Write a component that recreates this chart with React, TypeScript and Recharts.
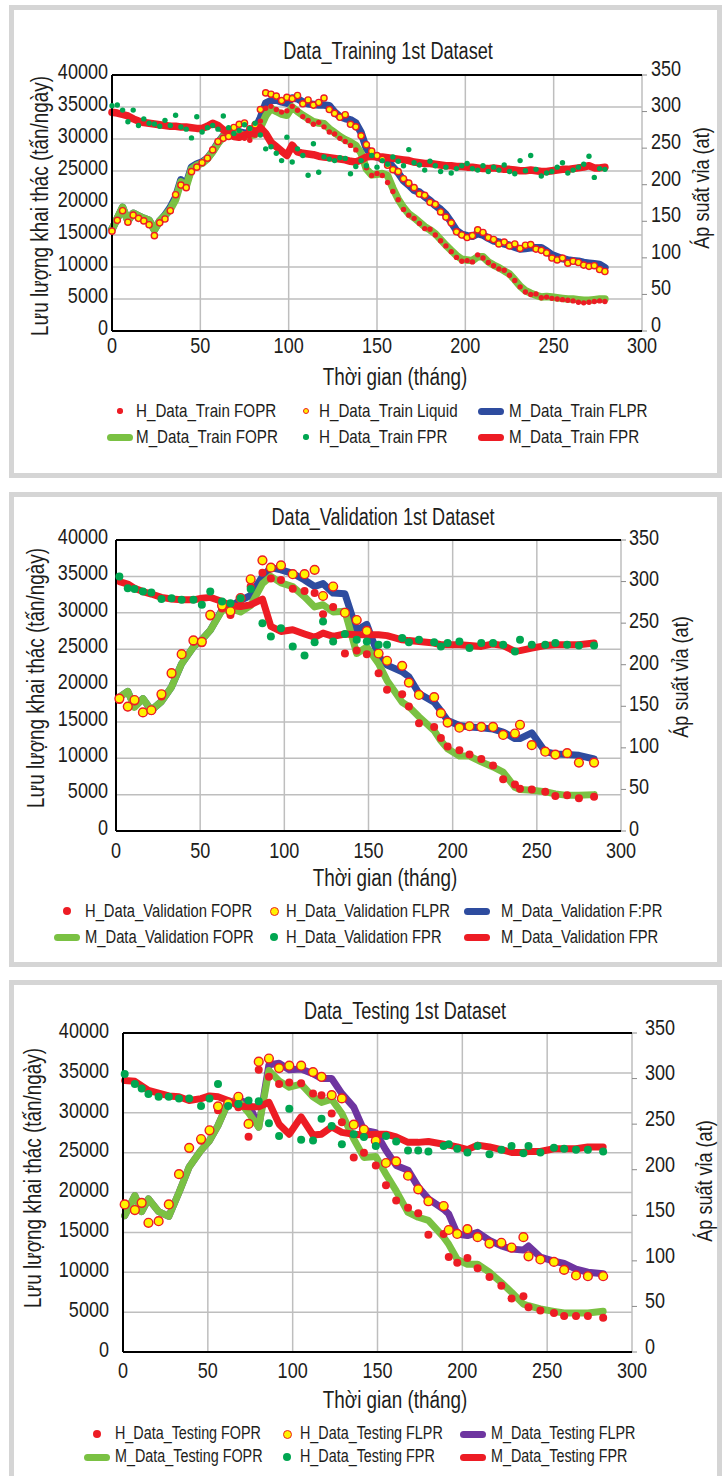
import React from 'react';
import { ComposedChart, Line, XAxis, YAxis, CartesianGrid, ReferenceLine } from 'recharts';

// No narrow face is installed, so Liberation Sans is squeezed horizontally instead
const FONT = '"Liberation Sans", Arial, sans-serif';
const SX = 0.82;
const INK = '#1d1d1b';
const RED = '#ED1C24';
const GREEN_LINE = '#7AC143';
const GREEN_DOT = '#00A651';
const BLUE = '#2E4C9F';
const PURPLE = '#6E35A0';
const YELLOW = '#FFF200';
const GRID = '#BEBEBE';
const FRAME = '#D5D5D5';

const X_TICKS = [0, 50, 100, 150, 200, 250, 300];
const RATE_TICKS = [0, 5000, 10000, 15000, 20000, 25000, 30000, 35000, 40000];
const PRESSURE_TICKS = [0, 50, 100, 150, 200, 250, 300, 350];

// ---- Training (monthly history, sampled every 3 months) ----
const trainMonths = [
  0, 3, 6, 9, 12, 15, 18, 21, 24, 27,
  30, 33, 36, 39, 42, 45, 48, 51, 54, 57,
  60, 63, 66, 69, 72, 75, 78, 81, 84, 87,
  90, 93, 96, 99, 102, 105, 108, 111, 114, 117,
  120, 123, 126, 129, 132, 135, 138, 141, 144, 147,
  150, 153, 156, 159, 162, 165, 168, 171, 174, 177,
  180, 183, 186, 189, 192, 195, 198, 201, 204, 207,
  210, 213, 216, 219, 222, 225, 228, 231, 234, 237,
  240, 243, 246, 249, 252, 255, 258, 261, 264, 267,
  270, 273, 276, 279,
];
const trainHFopr = [
  15600, 17300, 18800, 17000, 18100, 17600, 17200, 16600, 14900, 16900,
  17500, 18800, 21300, 22800, 22400, 24900, 25600, 26300, 27000, 28300,
  29600, 30100, 30400, 30300, 30200, 30100, 29800, 30600, 32800, 34800,
  35100, 34600, 34200, 34400, 35100, 34500, 33500, 32900, 32300, 32600,
  31900, 31100, 30800, 30100, 29600, 29000, 28300, 26900, 25500, 24300,
  24600, 24300, 23200, 21800, 20500, 19000, 18100, 17600, 16800, 16000,
  15900, 15000, 14100, 13300, 12400, 11500, 10900, 11000, 10800, 11900,
  11400, 10700, 10200, 9700, 9500, 8700, 7900, 6900, 6100, 5700,
  5800, 5200, 5300, 5100, 5000, 4900, 4800, 4700, 4500, 4400,
  4500, 4600, 4700, 4600,
];
const trainHLiquid = [
  15600, 17300, 18800, 17000, 18100, 17600, 17200, 16600, 14900, 16900,
  17500, 18800, 21300, 22800, 22400, 24900, 25600, 26300, 27000, 28300,
  29600, 30100, 30400, 31800, 32300, 32500, 31600, 32200, 34600, 37200,
  37000, 36700, 36000, 36500, 36300, 36800, 35500, 36100, 35300, 35700,
  36400, 34600, 34000, 33400, 33800, 32300, 31900, 30500, 29100, 28100,
  27400, 26800, 25900, 25200, 24900, 23800, 23100, 22400, 21400, 21200,
  20100, 19800, 18600, 17800, 16900, 15500, 15000, 14600, 14900, 15800,
  15400, 14600, 14300, 13600, 13900, 13300, 13600, 12900, 13400, 13500,
  12800, 12600, 12200, 11400, 11100, 11400, 10600, 10900, 10700, 10300,
  10100, 10200, 9600, 9300,
];
const trainMFlpr = [
  15900, 17600, 19300, 17200, 18400, 18000, 17600, 17300, 15800, 17200,
  18100, 19300, 20900, 23600, 22900, 25600, 26100, 26400, 27000, 28100,
  29400, 30500, 30900, 31200, 31100, 30900, 31000, 31500, 33300, 35600,
  36000, 36100, 35800, 35600, 36400, 36300, 35800, 35500, 35400, 35300,
  35300, 35200, 34200, 33500, 33200, 33000, 32500, 31000, 28500, 27600,
  27200, 26900, 26600, 25600, 24700, 23500, 22800, 22000, 21700, 21000,
  20400, 19600, 19000, 18200, 17000, 15700, 15100, 14900, 14800, 15200,
  15000, 14500, 14100, 13900, 13600, 13400, 13100, 12800, 12900, 13000,
  13000, 13000, 12500, 11900, 11600, 11300, 11100, 11000, 10900, 10700,
  10600, 10500, 10400, 9900,
];
const trainMFopr = [
  15900, 17600, 19300, 17200, 18400, 18000, 17600, 17300, 15800, 17200,
  18000, 19000, 20500, 23300, 22600, 25300, 25900, 26200, 26900, 28000,
  29300, 30400, 30800, 31100, 30900, 30500, 30500, 30700, 31800, 33600,
  34800, 34300, 33900, 33700, 35000, 34300, 33700, 33200, 32700, 32500,
  32400, 31600, 31000, 30400, 29900, 29500, 29000, 27800, 25300, 24400,
  24500, 24600, 24300, 22300, 20600, 19300, 18300, 17700, 17000, 16300,
  15800, 15200, 14300, 13400, 12600, 11800, 11200, 11100, 11000, 11600,
  11600, 10800, 10300, 9900, 9400, 8900, 8000, 7000, 6300, 5900,
  5600, 5300, 5400, 5300, 5200, 5100, 5000, 5000, 4900, 4800,
  4800, 4900, 5000, 5000,
];
const trainHFpr = [
  308, 309, 302, 286, 302, 281, 290, 284, 283, 280,
  288, 281, 295, 279, 276, 264, 293, 272, 278, 281,
  276, 294, 278, 270, 274, 282, 277, 284, 268, 249,
  252, 243, 233, 265, 231, 249, 240, 213, 256, 217,
  238, 235, 233, 237, 236, 215, 225, 233, 226, 240,
  224, 233, 228, 238, 232, 226, 248, 230, 227, 220,
  232, 226, 218, 224, 216, 222, 226, 229, 222, 220,
  226, 218, 224, 220, 227, 218, 215, 233, 219, 240,
  221, 212, 216, 218, 224, 230, 216, 220, 224, 228,
  239, 210, 222, 221,
];
const trainMFpr = [
  299, 298, 296, 294, 290, 287, 285, 284, 283, 282,
  281, 280, 280, 279, 279, 278, 277, 277, 280, 284,
  281, 275, 271, 266, 265, 268, 269, 272, 278, 270,
  258, 252, 246, 240, 254, 245, 243, 242, 241, 239,
  238, 237, 236, 235, 234, 232, 231, 234, 238, 239,
  238, 238, 237, 236, 235, 234, 233, 231, 230, 229,
  229, 228, 227, 226, 226, 225, 225, 224, 224, 223,
  222, 222, 223, 222, 221, 221, 220, 219, 219, 220,
  219, 218, 218, 219, 220, 221, 221, 222, 223, 224,
  226, 223, 223, 224,
];

// ---- Validation ----
const valMonths = [
  2, 7, 11, 16, 21, 27, 33, 39, 46, 51,
  56, 63, 68, 74, 80, 87, 92, 98, 105, 112,
  118, 123, 129, 136, 143, 149, 156, 161, 170, 174,
  180, 189, 193, 197, 204, 210, 217, 224, 230, 237,
  240, 247, 255, 261, 268, 275, 284,
];
const valHFopr = [
  18000, 17000, 17800, 16300, 16500, 18500, 21500, 24200, 26000, 25800,
  29500, 30600, 29700, 31900, 33600, 35500, 34700, 34500, 33300, 33000,
  32700, 29800, 30800, 24400, 24800, 24300, 21700, 19400, 18800, 17100,
  14800, 14300, 12800, 11600, 11100, 10500, 9900, 9000, 7100, 6400,
  5800, 5700, 5400, 4800, 4900, 4500, 4700,
];
const valHFlpr = [
  18200, 17100, 18000, 16300, 16600, 18800, 21700, 24300, 26200, 26000,
  29700, 31000, 30200, 32000, 34600, 37200, 36200, 36500, 35300, 35300,
  35900, 32300, 33600, 30000, 29000, 27500, 24400, 23400, 22700, 20400,
  18700, 18400, 16200, 14900, 14200, 14400, 14300, 14300, 13200, 13400,
  14600, 11800, 10900, 10500, 10700, 9400, 9400,
];
const valMFlpr = [
  18400, 19200, 17100, 18200, 16600, 17800, 19800, 23000, 25300, 26300,
  27600, 30400, 30900, 31700, 32400, 35000, 36200, 35900, 35400, 34500,
  33600, 34000, 32700, 32600, 27600, 28400, 24000, 22800, 21900, 21200,
  18900, 17700, 16500, 15200, 14500, 14300, 14200, 14000, 13600, 12700,
  12700, 13500, 10900, 10600, 10500, 10400, 9900,
];
const valMFopr = [
  18400, 19200, 17000, 18200, 16600, 17800, 19800, 23000, 25300, 26300,
  27600, 30300, 30600, 30100, 31000, 34000, 35000, 34100, 33600, 32200,
  30800, 31100, 30100, 30200, 24400, 25300, 23000, 20700, 17700, 17100,
  15700, 13800, 12400, 11300, 10300, 10300, 9500, 8800, 8100, 6000,
  5700, 5600, 5400, 5100, 4900, 4900, 5000,
];
const valHFpr = [
  306, 292, 291, 288, 287, 279, 280, 278, 278, 272,
  288, 276, 274, 280, 291, 250, 234, 244, 222, 211,
  227, 252, 228, 237, 230, 228, 224, 224, 232, 227,
  230, 227, 222, 226, 228, 220, 226, 226, 224, 216,
  230, 224, 224, 226, 224, 223, 223,
];
const valMFpr = [
  300, 297, 292, 288, 285, 281, 279, 278, 278, 280,
  281, 276, 271, 270, 272, 279, 246, 240, 242, 237,
  233, 238, 234, 237, 236, 236, 236, 235, 230, 229,
  228, 226, 224, 224, 224, 223, 222, 225, 223, 216,
  217, 220, 223, 224, 224, 224, 226,
];

// ---- Testing ----
const testMonths = [
  1, 7, 11, 15, 21, 27, 33, 39, 46, 51,
  56, 62, 68, 74, 80, 86, 92, 98, 105, 112,
  117, 123, 129, 136, 142, 149, 155, 161, 168, 174,
  180, 189, 192, 197, 203, 209, 216, 223, 229, 236,
  239, 246, 254, 260, 267, 274, 283,
];
const testHFopr = [
  18400, 17800, 18600, 16200, 16400, 18400, 22300, 25500, 26500, 27700,
  30300, 31000, 30700, 27000, 35400, 34500, 33600, 33800, 33700, 32400,
  32200, 29900, 28800, 24400, 25000, 23400, 20900, 19000, 18100, 17400,
  14700, 14800, 11900, 11200, 11800, 10500, 9400, 8300, 6700, 7000,
  5600, 5200, 4900, 4500, 4500, 4500, 4300,
];
const testHFlpr = [
  18500, 17800, 18700, 16200, 16400, 18500, 22300, 25600, 26700, 27800,
  30800, 31200, 32000, 28600, 36400, 36800, 35600, 35900, 35900, 35100,
  34500, 32200, 31800, 28500, 27900, 26500, 23700, 23900, 22100, 20400,
  18900, 18300, 15300, 14800, 15400, 14400, 13600, 13700, 13100, 14400,
  12000, 11600, 11300, 10300, 9600, 9500, 9500,
];
const testMFlpr = [
  17100, 19600, 17600, 19200, 17600, 17000, 20000, 23200, 25300, 26500,
  28400, 31300, 31600, 31200, 28200, 36000, 36200, 35400, 35500, 34900,
  34300, 34300, 32400, 30700, 27800, 27500, 25300, 23400, 22800, 20700,
  19200, 17900, 17300, 14800, 14600, 15000, 14000, 13300, 12900, 12800,
  13300, 11900, 11400, 11100, 10400, 10000, 9800,
];
const testMFopr = [
  17100, 19600, 17600, 19200, 17600, 17000, 20000, 23200, 25300, 26500,
  28400, 31300, 31500, 30000, 28200, 35300, 34000, 33200, 33600, 32000,
  31300, 31700, 29900, 26700, 24400, 24500, 22300, 20200, 17500, 16900,
  16500, 14400, 13500, 11600, 11000, 11000, 10000, 8700, 7500, 6000,
  5800, 5400, 5100, 4900, 4900, 4900, 5100,
];
const testHFpr = [
  305, 294, 289, 283, 280, 280, 278, 278, 270, 278,
  294, 270, 272, 276, 275, 251, 237, 267, 233, 232,
  256, 248, 228, 239, 236, 226, 237, 231, 221, 221,
  220, 226, 228, 223, 219, 226, 217, 222, 226, 218,
  226, 219, 224, 223, 222, 222, 220,
];
const testMFpr = [
  298, 297, 292, 287, 284, 281, 280, 276, 278, 281,
  280, 276, 270, 269, 269, 274, 250, 239, 258, 238,
  239, 247, 241, 239, 238, 239, 239, 236, 230, 230,
  231, 228, 227, 225, 222, 227, 225, 222, 219, 219,
  220, 220, 223, 223, 223, 225, 225,
];

type LegendItem = { label: string; kind: 'dot' | 'line'; color: string; edge?: string };

interface PanelSpec {
  title: string;
  months: number[];
  hFopr: number[]; hFlpr: number[]; mFlpr: number[]; mFopr: number[]; hFpr: number[]; mFpr: number[];
  flprColor: string;
  legend: LegendItem[][];
  frameTop: number; frameHeight: number;
  chartTop: number; chartHeight: number;
  margin: { top: number; left: number; right: number; bottom: number };
  lGap: number; rGap: number; xGap: number; lShift: number; rShift: number;
  titleAt: [number, number]; xLabelAt: [number, number]; lLabelAt: [number, number]; rLabelAt: [number, number];
  legendRows: number[]; markerX: number[]; textX: number[]; legendFont: number;
  dotR: number; legendDotR: number; lineW: number; denseOrder: boolean;
}

const legendFor = (h: string, m: string, flprLabel: string, liqLabel: string, flprColor: string): LegendItem[][] => [
  [
    { label: `${h} FOPR`, kind: 'dot', color: RED },
    { label: liqLabel, kind: 'dot', color: YELLOW, edge: RED },
    { label: flprLabel, kind: 'line', color: flprColor },
  ],
  [
    { label: `${m} FOPR`, kind: 'line', color: GREEN_LINE },
    { label: `${h} FPR`, kind: 'dot', color: GREEN_DOT },
    { label: `${m} FPR`, kind: 'line', color: RED },
  ],
];

const PANELS: PanelSpec[] = [
  {
    title: 'Data_Training 1st Dataset',
    months: trainMonths, hFopr: trainHFopr, hFlpr: trainHLiquid, mFlpr: trainMFlpr, mFopr: trainMFopr, hFpr: trainHFpr, mFpr: trainMFpr,
    flprColor: BLUE,
    legend: legendFor('H_Data_Train', 'M_Data_Train', 'M_Data_Train FLPR', 'H_Data_Train Liquid', BLUE),
    frameTop: 5, frameHeight: 473, chartTop: 0, chartHeight: 370,
    margin: { top: 75, left: 52, right: 23, bottom: 9 },
    lGap: 4, rGap: 4, xGap: 6, lShift: -4, rShift: -7,
    titleAt: [388, 52], xLabelAt: [395, 377], lLabelAt: [40, 206], rLabelAt: [702, 188],
    legendRows: [411, 437], markerX: [120, 306, 491], textX: [136, 319, 509], legendFont: 18.5,
    dotR: 2.7, legendDotR: 2.7, lineW: 7.5, denseOrder: true,
  },
  {
    title: 'Data_Validation 1st Dataset',
    months: valMonths, hFopr: valHFopr, hFlpr: valHFlpr, mFlpr: valMFlpr, mFopr: valMFopr, hFpr: valHFpr, mFpr: valMFpr,
    flprColor: BLUE,
    legend: legendFor('H_Data_Validation', 'M_Data_Validation', 'M_Data_Validation F:PR', 'H_Data_Validation FLPR', BLUE),
    frameTop: 492, frameHeight: 475, chartTop: 480, chartHeight: 390,
    margin: { top: 60, left: 56, right: 44, bottom: 9 },
    lGap: 8, rGap: 3, xGap: 11, lShift: -4, rShift: -3,
    titleAt: [383, 518], xLabelAt: [385, 878], lLabelAt: [36, 678], rLabelAt: [681, 677],
    legendRows: [911, 937], markerX: [67, 274, 477], textX: [85, 286, 501], legendFont: 18,
    dotR: 4, legendDotR: 4, lineW: 7, denseOrder: false,
  },
  {
    title: 'Data_Testing 1st Dataset',
    months: testMonths, hFopr: testHFopr, hFlpr: testHFlpr, mFlpr: testMFlpr, mFopr: testMFopr, hFpr: testHFpr, mFpr: testMFpr,
    flprColor: PURPLE,
    legend: legendFor('H_Data_Testing', 'M_Data_Testing', 'M_Data_Testing FLPR', 'H_Data_Testing FLPR', PURPLE),
    frameTop: 980, frameHeight: 510, chartTop: 970, chartHeight: 420,
    margin: { top: 63, left: 63, right: 33, bottom: 8 },
    lGap: 14, rGap: 8, xGap: 10, lShift: -3, rShift: -6,
    titleAt: [405, 1012], xLabelAt: [395, 1400], lLabelAt: [33, 1178], rLabelAt: [705, 1181],
    legendRows: [1434, 1457], markerX: [97, 287, 473], textX: [115, 300, 491], legendFont: 17.5,
    dotR: 4, legendDotR: 4, lineW: 7, denseOrder: false,
  },
];

const centered = (x: number, y: number, size: number, rotate = false, sx = SX): React.CSSProperties => ({
  position: 'absolute', left: x, top: y, fontSize: size, lineHeight: 1, whiteSpace: 'nowrap', color: INK,
  transform: `translate(-50%, -50%)${rotate ? ' rotate(-90deg)' : ''} scaleX(${sx})`,
});

// axis tick text, squeezed like the condensed face of the original
const NarrowTick = (props: any) => {
  const { x, y, payload, textAnchor, verticalAnchor, shift = 0 } = props;
  const dy = verticalAnchor === 'start' ? '0.71em' : '0.355em';
  return (
    <text transform={`translate(${x},${y + shift}) scale(${SX},1)`} textAnchor={textAnchor} dy={dy} fontSize={22} fill={INK}>
      {payload.value}
    </text>
  );
};

const Marker = ({ item, x, y, r }: { item: LegendItem; x: number; y: number; r: number }) => {
  if (item.kind === 'line') {
    return <div style={{ position: 'absolute', left: x - 13, top: y - 3.5, width: 26, height: 7, borderRadius: 4, background: item.color }} />;
  }
  const rr = item.edge ? r + 0.5 : r;
  return (
    <div style={{
      position: 'absolute', left: x - rr, top: y - rr, width: rr * 2, height: rr * 2, borderRadius: '50%',
      background: item.color, boxSizing: 'border-box', border: item.edge ? `1.5px solid ${item.edge}` : 'none',
    }} />
  );
};

const Panel = ({ p }: { p: PanelSpec }) => {
  const rows = p.months.map((t, i) => ({
    t, hFopr: p.hFopr[i], hFlpr: p.hFlpr[i], mFlpr: p.mFlpr[i], mFopr: p.mFopr[i], hFpr: p.hFpr[i], mFpr: p.mFpr[i],
  }));

  const dots = (key: string, fill: string, edge?: string) => (
    <Line key={key} yAxisId={key === 'hFpr' ? 'r' : 'l'} dataKey={key} stroke="none" legendType="none"
      isAnimationActive={false} activeDot={false}
      dot={{ r: edge ? p.dotR + 0.4 : p.dotR, fill, stroke: edge ?? 'none', strokeWidth: edge ? 1.4 : 0 }} />
  );
  const line = (key: string, color: string) => (
    <Line key={key} type="linear" yAxisId={key === 'mFpr' ? 'r' : 'l'} dataKey={key} stroke={color}
      strokeWidth={p.lineW} strokeLinejoin="round" strokeLinecap="round" dot={false} activeDot={false}
      isAnimationActive={false} legendType="none" />
  );

  const series = p.denseOrder
    ? [dots('hFopr', RED), line('mFlpr', p.flprColor), dots('hFlpr', YELLOW, RED), line('mFopr', GREEN_LINE), line('mFpr', RED), dots('hFpr', GREEN_DOT)]
    : [line('mFlpr', p.flprColor), line('mFopr', GREEN_LINE), line('mFpr', RED), dots('hFopr', RED), dots('hFlpr', YELLOW, RED), dots('hFpr', GREEN_DOT)];

  return (
    <>
      <div style={{
        position: 'absolute', left: 9, top: p.frameTop, width: 713, height: p.frameHeight,
        border: `5px solid ${FRAME}`, boxSizing: 'border-box', background: '#fff',
      }} />
      <div style={{ position: 'absolute', left: 0, top: p.chartTop }}>
        <ComposedChart width={725} height={p.chartHeight} data={rows} margin={p.margin}>
          <CartesianGrid yAxisId="l" stroke={GRID} strokeWidth={1.5} />
          <XAxis type="number" dataKey="t" domain={[0, 300]} ticks={X_TICKS} interval={0} height={30}
            axisLine={{ stroke: '#000', strokeWidth: 2 }} tickLine={false} tickSize={0} tickMargin={p.xGap} tick={<NarrowTick />} />
          <YAxis yAxisId="l" type="number" domain={[0, 40000]} ticks={RATE_TICKS} interval={0} width={60}
            axisLine={{ stroke: '#000', strokeWidth: 2 }} tickLine={false} tickSize={0} tickMargin={p.lGap}
            tick={<NarrowTick shift={p.lShift} />} />
          <YAxis yAxisId="r" orientation="right" type="number" domain={[0, 350]} ticks={PRESSURE_TICKS} interval={0} width={60}
            axisLine={false} tickLine={{ stroke: '#8a8a8a' }} tickSize={5} tickMargin={p.rGap}
            tick={<NarrowTick shift={p.rShift} />} />
          <ReferenceLine yAxisId="l" y={40000} stroke="#000" strokeWidth={2} />
          {series}
        </ComposedChart>
      </div>
      <div style={centered(p.titleAt[0], p.titleAt[1], 23.5, false, 0.77)}>{p.title}</div>
      <div style={centered(p.xLabelAt[0], p.xLabelAt[1], 23)}>Thời gian (tháng)</div>
      <div style={centered(p.lLabelAt[0], p.lLabelAt[1], 23, true)}>Lưu lượng khai thác (tấn/ngày)</div>
      <div style={centered(p.rLabelAt[0], p.rLabelAt[1], 22, true)}>Áp suất vỉa (at)</div>
      {p.legend.map((row, ri) => row.map((item, ci) => (
        <React.Fragment key={`${ri}-${ci}`}>
          <Marker item={item} x={p.markerX[ci]} y={p.legendRows[ri]} r={p.legendDotR} />
          <div style={{
            position: 'absolute', left: p.textX[ci], top: p.legendRows[ri], transform: `translateY(-50%) scaleX(${SX})`,
            transformOrigin: 'left center', fontSize: p.legendFont, lineHeight: 1, whiteSpace: 'nowrap', color: INK,
          }}>{item.label}</div>
        </React.Fragment>
      )))}
    </>
  );
};

export default function App() {
  return (
    <div style={{
      position: 'absolute', left: 0, top: 0, width: 725, height: 1476, overflow: 'hidden',
      background: '#fff', fontFamily: FONT,
    }}>
      {PANELS.map((p) => <Panel key={p.title} p={p} />)}
    </div>
  );
}
